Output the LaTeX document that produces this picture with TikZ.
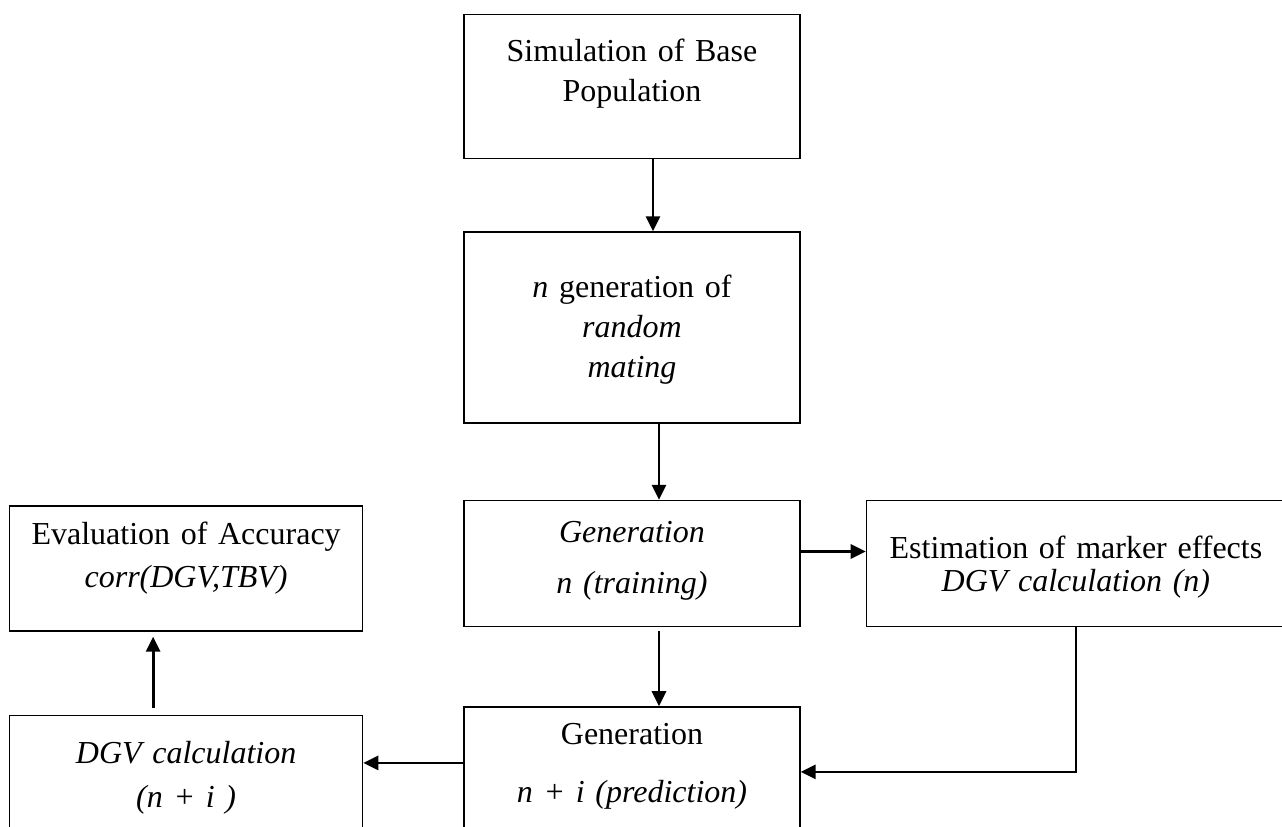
\documentclass[tikz,border=0pt]{standalone}
\usepackage{fontspec}
\setmainfont[WordSpace=0.8]{Liberation Serif}
\usepackage{tikz}
\usetikzlibrary{arrows.meta,positioning}

\begin{document}
\begin{tikzpicture}[
  x=1pt, y=-1pt,
  node distance=72pt,
  box/.style={draw, line width=1.4pt, inner sep=0pt, align=center, font=\fontsize{32}{40}\selectfont},
  arrow/.style={-{Triangle[length=15pt,width=14pt]}, line width=2.8pt}
]
\clip (0,0) rectangle (1282,827);
\node[box, anchor=north, text width=336pt, text height=47pt, text depth=97pt] (sim) at (632,14) {Simulation of Base\\Population};
\node[box, below=of sim, text width=336pt, text height=65pt, text depth=126pt] (mating) {\textit{n} generation of\\\textit{random}\\\textit{mating}};
\node[box, below=76pt of mating, text width=336pt, text height=42pt, text depth=84pt] (train) {\textit{Generation}\\[11pt]\textit{n (training)}};
\node[box, below=79pt of train, text width=336pt, text height=38pt, text depth=92pt] (pred) {Generation\\[18pt]\textit{n + i (prediction)}};
\node[box, right=65pt of train, text width=419pt, text height=58pt, text depth=68pt] (est) {Estimation of marker effects\\[-7pt]\textit{DGV calculation (n)}};
\node[box, left=100pt of train, yshift=-5pt, text width=353pt, text height=38pt, text depth=87pt] (eval) {Evaluation of Accuracy\\[3pt]\textit{corr(DGV,TBV)}};
\node[box, below=83pt of eval, text width=353pt, text height=48pt, text depth=102pt] (dgv) {\textit{DGV calculation}\\[4pt]\textit{(n + i )}};
\draw[arrow] ([xshift=21pt]sim.south) -- ([xshift=21pt]mating.north);
\draw[arrow] ([xshift=27pt]mating.south) -- ([xshift=27pt]train.north);
\draw[arrow] ([xshift=27pt,yshift=-4pt]train.south) -- ([xshift=27pt]pred.north);
\draw[arrow] ([yshift=12pt]train.east) -- ([yshift=12pt]est.west);
\draw[arrow] (est.south) |- (pred.east);
\draw[arrow] ([yshift=9pt]pred.west) -- ([yshift=9pt]pred.west -| dgv.east);
\draw[arrow] ([xshift=-33pt,yshift=7pt]dgv.north) -- ([xshift=-33pt,yshift=-5pt]eval.south);
\end{tikzpicture}
\end{document}
